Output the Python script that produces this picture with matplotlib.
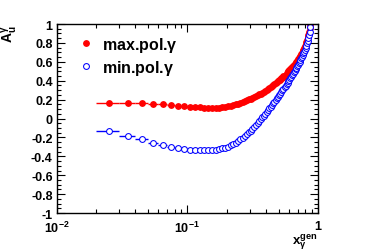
import numpy as np
import matplotlib
matplotlib.use("Agg")
import matplotlib.pyplot as plt
from matplotlib.ticker import FixedLocator, FixedFormatter, MultipleLocator, NullFormatter

plt.rcParams['font.family'] = ['Liberation Sans', 'DejaVu Sans']
plt.rcParams['font.weight'] = 'bold'
plt.rcParams['mathtext.fontset'] = 'custom'
plt.rcParams['mathtext.rm'] = 'Liberation Sans:bold'
plt.rcParams['mathtext.bf'] = 'Liberation Sans:bold'
plt.rcParams['mathtext.it'] = 'Liberation Sans:bold'

# bin centres (bins of width 0.01)
x_gen = [0.025, 0.035, 0.045, 0.055, 0.065, 0.075, 0.085, 0.095, 0.105, 0.115,
         0.125, 0.135, 0.145, 0.155, 0.165, 0.175, 0.185, 0.195, 0.205, 0.215,
         0.225, 0.235, 0.245, 0.255, 0.265, 0.275, 0.285, 0.295, 0.305, 0.315,
         0.325, 0.335, 0.345, 0.355, 0.365, 0.375, 0.385, 0.395, 0.405, 0.415,
         0.425, 0.435, 0.445, 0.455, 0.465, 0.475, 0.485, 0.495, 0.505, 0.515,
         0.525, 0.535, 0.545, 0.555, 0.565, 0.575, 0.585, 0.595, 0.605, 0.615,
         0.625, 0.635, 0.645, 0.655, 0.665, 0.675, 0.685, 0.695, 0.705, 0.715,
         0.725, 0.735, 0.745, 0.755, 0.765, 0.775, 0.785, 0.795, 0.805, 0.815,
         0.825, 0.835, 0.845, 0.855, 0.865, 0.875]
x_halfwidth = 0.005

a_max = [0.167, 0.167, 0.164, 0.155, 0.153, 0.143, 0.134, 0.132, 0.126, 0.121,
         0.118, 0.114, 0.112, 0.113, 0.112, 0.116, 0.120, 0.125, 0.131, 0.137,
         0.143, 0.151, 0.158, 0.167, 0.175, 0.184, 0.193, 0.202, 0.211, 0.220,
         0.229, 0.238, 0.247, 0.256, 0.265, 0.274, 0.284, 0.293, 0.303, 0.313,
         0.323, 0.333, 0.343, 0.353, 0.363, 0.373, 0.383, 0.393, 0.403, 0.413,
         0.424, 0.434, 0.445, 0.455, 0.466, 0.477, 0.488, 0.499, 0.510, 0.521,
         0.532, 0.543, 0.555, 0.566, 0.578, 0.590, 0.602, 0.614, 0.627, 0.640,
         0.653, 0.667, 0.681, 0.696, 0.712, 0.729, 0.747, 0.766, 0.786, 0.808,
         0.832, 0.858, 0.887, 0.920, 0.957, 0.995]

a_min = [-0.135, -0.185, -0.220, -0.255, -0.280, -0.298, -0.315, -0.323, -0.330, -0.334,
         -0.337, -0.338, -0.338, -0.335, -0.331, -0.325, -0.317, -0.307, -0.296, -0.283,
         -0.269, -0.254, -0.238, -0.221, -0.203, -0.185, -0.166, -0.147, -0.127, -0.107,
         -0.087, -0.067, -0.047, -0.027, -0.007, 0.013, 0.032, 0.051, 0.070, 0.089,
         0.108, 0.126, 0.144, 0.162, 0.180, 0.197, 0.214, 0.231, 0.248, 0.265,
         0.282, 0.298, 0.315, 0.331, 0.347, 0.363, 0.379, 0.395, 0.411, 0.427,
         0.443, 0.459, 0.475, 0.491, 0.507, 0.523, 0.539, 0.555, 0.571, 0.587,
         0.603, 0.620, 0.637, 0.654, 0.672, 0.690, 0.709, 0.729, 0.750, 0.772,
         0.796, 0.822, 0.851, 0.883, 0.920, 0.965]

err_max = 0.006
err_min = 0.006

fig = plt.figure(figsize=(3.74, 2.53), dpi=100)
ax = fig.add_axes([0.152, 0.154, 0.698, 0.747])

ax.errorbar(x_gen, a_max, xerr=x_halfwidth, yerr=err_max, fmt='none',
            ecolor='red', elinewidth=1.0, capsize=0)
ax.plot(x_gen, a_max, 'o', color='red', markersize=3.9, linestyle='none',
        label=r'max.pol.$\mathrm{\gamma}$')
ax.errorbar(x_gen, a_min, xerr=x_halfwidth, yerr=err_min, fmt='none',
            ecolor='blue', elinewidth=1.0, capsize=0)
ax.plot(x_gen, a_min, 'o', markerfacecolor='white', markeredgecolor='blue',
        markeredgewidth=0.75, markersize=4.2, linestyle='none',
        label=r'min.pol.$\mathrm{\gamma}$')

ax.set_xscale('log')
ax.set_xlim(0.01, 1)
ax.set_ylim(-1, 1)

ax.xaxis.set_major_locator(FixedLocator([0.01, 0.1, 1]))
ax.xaxis.set_major_formatter(FixedFormatter([r'$10^{-2}$', r'$10^{-1}$', '1']))
ax.xaxis.set_minor_formatter(NullFormatter())
ax.yaxis.set_major_locator(MultipleLocator(0.2))
ax.yaxis.set_minor_locator(MultipleLocator(0.05))
ax.yaxis.set_major_formatter(plt.FuncFormatter(lambda v, p: '%g' % round(v, 1)))
ax.tick_params(which='both', direction='in', top=True, right=True, width=0.8,
               labelsize=9)
ax.tick_params(axis='y', pad=3)
ax.tick_params(axis='x', pad=5)
ax.tick_params(which='major', length=6)
ax.tick_params(which='minor', length=3)
for s in ax.spines.values():
    s.set_linewidth(1.0)

ax.set_ylabel(r'$\mathrm{A_u^{\gamma}}$', fontsize=10)
ax.yaxis.set_label_coords(-0.14, 1.0)
ax.yaxis.label.set_horizontalalignment('right')
ax.set_xlabel(r'$\mathrm{x_{\gamma}^{gen}}$', fontsize=9.5)
ax.xaxis.set_label_coords(1.0, -0.098)
ax.xaxis.label.set_horizontalalignment('right')
ax.xaxis.label.set_verticalalignment('top')

ax.legend(loc='upper left', bbox_to_anchor=(0.025, 1.02), frameon=False,
          handletextpad=0.5, labelspacing=0.25, handlelength=1.0,
          prop={'weight': 'bold', 'size': 11.5})

fig.savefig('out.png', dpi=100)
